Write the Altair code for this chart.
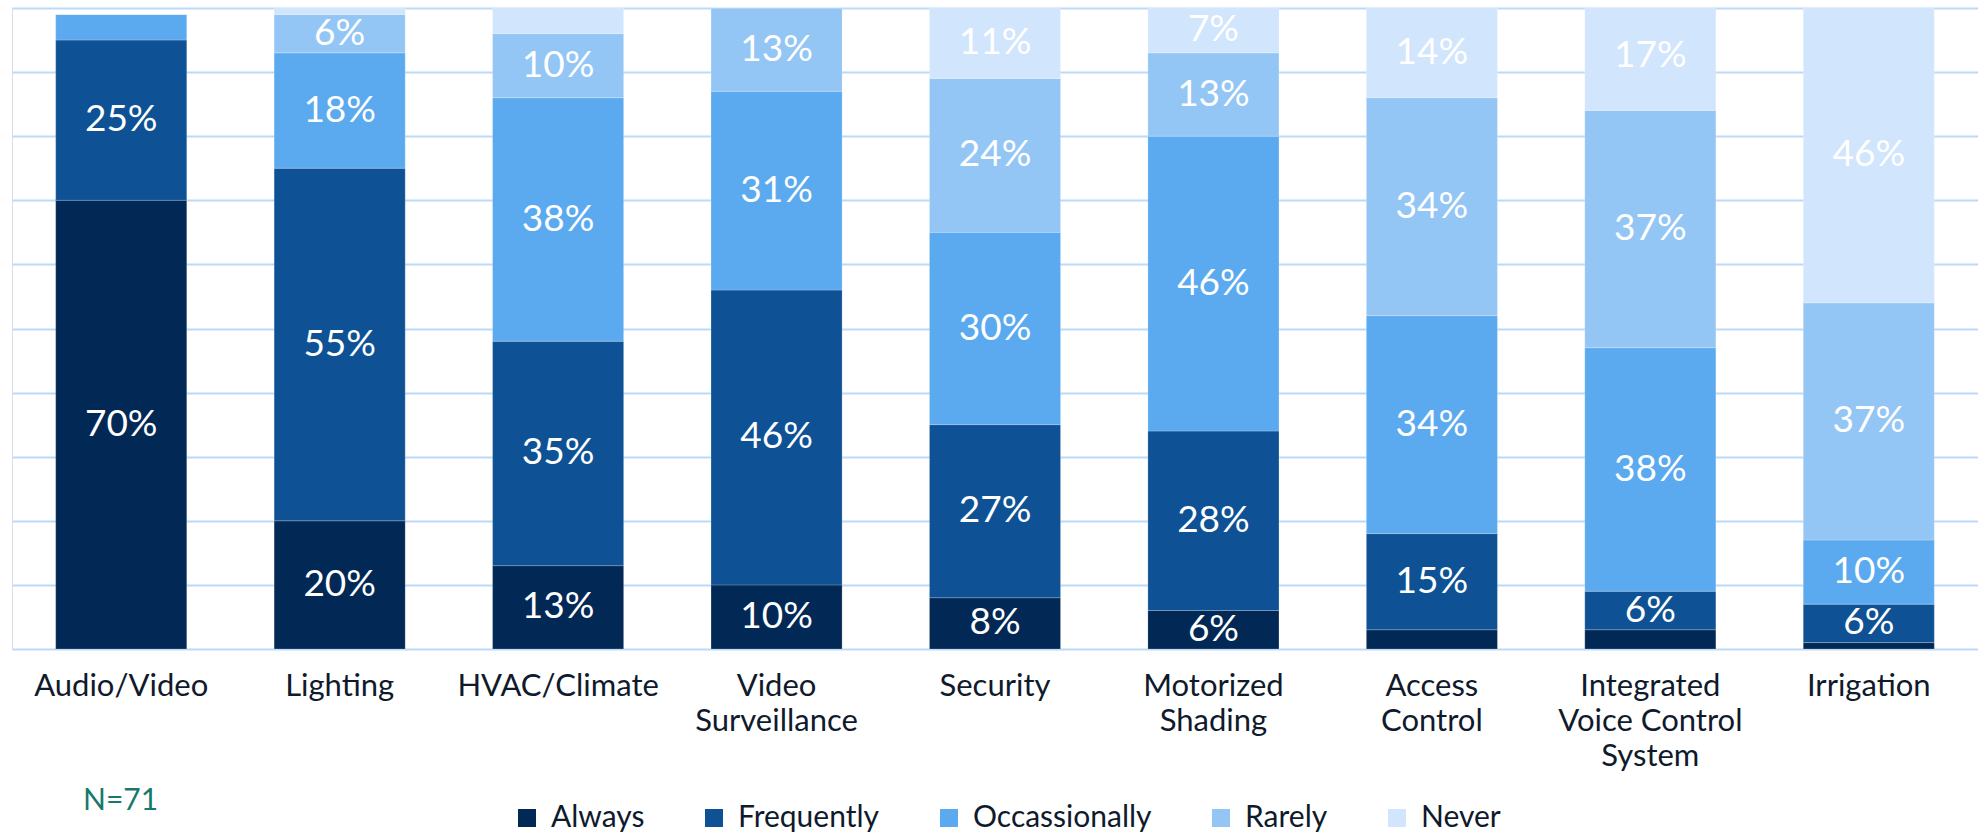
import altair as alt
import pandas as pd

categories = ["Audio/Video", "Lighting", "HVAC/Climate", "Video\nSurveillance", "Security",
              "Motorized\nShading", "Access\nControl", "Integrated\nVoice Control\nSystem", "Irrigation"]
series = ["Always", "Frequently", "Occassionally", "Rarely", "Never"]
always = [70, 20, 13, 10, 8, 6, 3, 3, 1]
frequently = [25, 55, 35, 46, 27, 28, 15, 6, 6]
occasionally = [4, 18, 38, 31, 30, 46, 34, 38, 10]
rarely = [0, 6, 10, 13, 24, 13, 34, 37, 37]
never = [0, 1, 4, 0, 11, 7, 14, 17, 46]
colors = ["#022855", "#0E5295", "#5BAAF0", "#94C6F5", "#D1E5FC"]
note = ["N=71"]

rows = []
for si, (s, vals) in enumerate(zip(series, [always, frequently, occasionally, rarely, never])):
    for c, v in zip(categories, vals):
        rows.append({"category": c, "series": s, "order": si, "value": v})
df = pd.DataFrame(rows)

FONT = "Lato"
TEXT_DARK = "#0f1a2c"

base = alt.Chart(df).transform_stack(
    stack="value", groupby=["category"], sort=[alt.SortField("order", order="ascending")],
    as_=["y0", "y1"]
).transform_calculate(
    mid="(datum.y0 + datum.y1) / 2",
    label="datum.value + '%'"
)

xenc = alt.X("category:N", sort=categories, title=None,
             scale=alt.Scale(paddingInner=0.4, paddingOuter=0.2),
             axis=alt.Axis(labelAngle=0, labelFont=FONT, labelFontSize=31, labelColor=TEXT_DARK,
                           labelLineHeight=35, labelPadding=22, labelBaseline="top",
                           labelLimit=0, ticks=False, domain=False, grid=False,
                           labelExpr="split(datum.value, '\\n')"))

yscale = alt.Scale(domain=[0, 100], nice=False, clamp=True)

bars = base.mark_bar(stroke="white", strokeWidth=0.5, strokeOpacity=0.4).encode(
    x=xenc,
    y=alt.Y("y0:Q", title=None, scale=yscale,
            axis=alt.Axis(labels=False, ticks=False, domain=False, grid=True,
                          values=list(range(0, 101, 10)), gridColor="#BCDAF8", gridWidth=2)),
    y2="y1:Q",
    color=alt.Color("series:N", scale=alt.Scale(domain=series, range=colors),
                    legend=alt.Legend(title=None, orient="none", direction="horizontal",
                                      legendX=500, legendY=795, symbolType="square",
                                      symbolSize=324, symbolStrokeWidth=0,
                                      labelFont=FONT, labelFontSize=30, labelColor=TEXT_DARK,
                                      labelLimit=0, labelOffset=9, columnPadding=54, padding=0)),
    order=alt.Order("order:Q")
)

labels = base.transform_filter("datum.value >= 5").mark_text(
    font=FONT, fontSize=37, color="white", baseline="middle", align="center"
).encode(
    x=alt.X("category:N", sort=categories),
    y=alt.Y("mid:Q", scale=yscale),
    text="label:N"
)

n_text = alt.Chart(pd.DataFrame({"t": note})).mark_text(
    font=FONT, fontSize=30, color="#17796B", align="left", baseline="middle"
).encode(x=alt.value(71), y=alt.value(793), text="t:N")

chart = alt.layer(bars, labels, n_text).properties(
    width=1966, height=641,
    autosize=alt.AutoSizeParams(type="none"),
    padding={"left": 12, "top": 8, "right": 0, "bottom": 184}
).configure_view(stroke=None).configure(background="white")

chart.save("out.html", embed_options={"renderer": "svg", "actions": False})
